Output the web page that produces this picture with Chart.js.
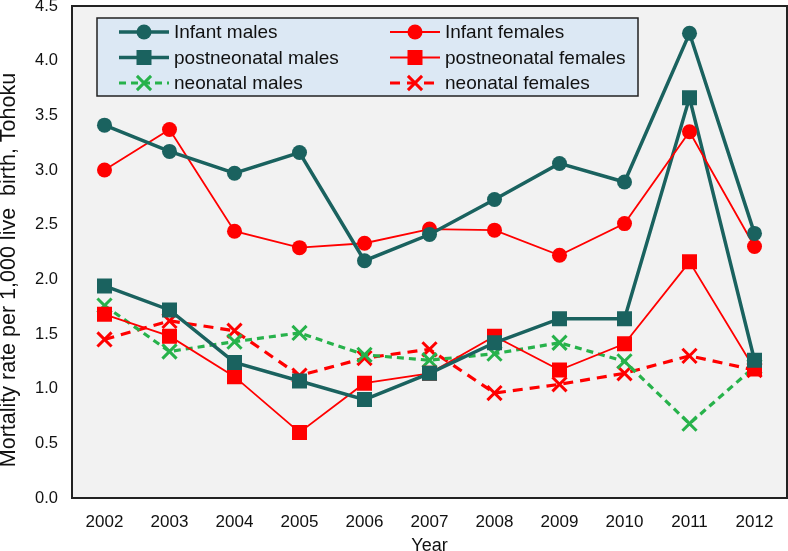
<!DOCTYPE html>
<html>
<head>
<meta charset="utf-8">
<script src="https://cdn.jsdelivr.net/npm/chart.js@4/dist/chart.umd.min.js"></script>
<style>
  body { margin: 0; background: #fff; }
  #wrap { width: 788px; height: 551px; }
</style>
</head>
<body>
<div id="wrap"><canvas id="chart" width="788" height="551"></canvas></div>
<script>
// data
const years = ["2002", "2003", "2004", "2005", "2006", "2007", "2008", "2009", "2010", "2011", "2012"];
const infantMales = [3.41, 3.17, 2.97, 3.16, 2.17, 2.41, 2.73, 3.06, 2.89, 4.25, 2.42];
const infantFemales = [3.00, 3.37, 2.44, 2.29, 2.33, 2.46, 2.45, 2.22, 2.51, 3.35, 2.30];
const postneoMales = [1.94, 1.72, 1.24, 1.07, 0.90, 1.14, 1.42, 1.64, 1.64, 3.66, 1.26];
const postneoFemales = [1.68, 1.48, 1.11, 0.60, 1.05, 1.14, 1.48, 1.17, 1.41, 2.16, 1.18];
const neoMales = [1.76, 1.34, 1.43, 1.51, 1.31, 1.26, 1.32, 1.42, 1.25, 0.68, 1.20];
const neoFemales = [1.45, 1.62, 1.53, 1.12, 1.28, 1.36, 0.96, 1.04, 1.14, 1.30, 1.17];
const yTicks = [0, 0.5, 1, 1.5, 2, 2.5, 3, 3.5, 4, 4.5];
const yTitle = "Mortality rate per 1,000 live  birth, Tohoku";

const TEAL = "#1a625f";
const RED = "#ff0000";
const GREEN = "#27b24b";
const FONT = "'Liberation Sans', Arial, sans-serif";

function ds(label, data, color, width, style, radius, dash) {
  return {
    label: label,
    data: data,
    borderColor: color,
    backgroundColor: color,
    pointBackgroundColor: color,
    pointBorderColor: color,
    borderWidth: width,
    borderDash: dash || [],
    pointStyle: style,
    pointRadius: radius,
    pointBorderWidth: style === "crossRot" ? 3 : 0,
    pointHoverRadius: radius,
    tension: 0,
    fill: false,
  };
}

// grey plot background + black frame + y title
const frame = {
  id: "frame",
  beforeDraw(chart) {
    const a = chart.chartArea, c = chart.ctx;
    c.save();
    c.fillStyle = "#f2f2f2";
    c.fillRect(a.left, a.top, a.right - a.left, a.bottom - a.top);
    c.restore();
  },
  afterDatasetsDraw(chart) {
    const a = chart.chartArea, c = chart.ctx;
    c.save();
    c.strokeStyle = "#222";
    c.lineWidth = 2;
    c.strokeRect(a.left, a.top, a.right - a.left, a.bottom - a.top);
    // axis title, sits a bit below the middle like the original
    c.translate(9, 270);
    c.rotate(-Math.PI / 2);
    c.fillStyle = "#111";
    c.font = "21.5px " + FONT;
    c.textAlign = "center";
    c.textBaseline = "middle";
    c.fillText(yTitle, 0, 0);
    c.restore();
  },
};

function marker(c, style, x, y, r, color) {
  c.save();
  c.fillStyle = color;
  c.strokeStyle = color;
  c.setLineDash([]);
  if (style === "circle") {
    c.beginPath();
    c.arc(x, y, r, 0, Math.PI * 2);
    c.fill();
  } else if (style === "rect") {
    const s = Math.SQRT1_2 * r;
    c.fillRect(x - s, y - s, 2 * s, 2 * s);
  } else {
    const s = Math.SQRT1_2 * r;
    c.lineWidth = 3;
    c.beginPath();
    c.moveTo(x - s, y - s); c.lineTo(x + s, y + s);
    c.moveTo(x + s, y - s); c.lineTo(x - s, y + s);
    c.stroke();
  }
  c.restore();
}

// two-column legend box inside the plot
const boxLegend = {
  id: "boxLegend",
  afterDraw(chart) {
    const a = chart.chartArea, c = chart.ctx;
    const x0 = a.left + 25, y0 = a.top + 12, w = 541, h = 78;
    c.save();
    c.fillStyle = "#dce8f4";
    c.fillRect(x0, y0, w, h);
    c.strokeStyle = "#222";
    c.lineWidth = 1.5;
    c.strokeRect(x0, y0, w, h);
    c.font = "19px " + FONT;
    c.textBaseline = "middle";
    chart.data.datasets.forEach(function (d, i) {
      const col = i % 2, row = Math.floor(i / 2);
      const lx = x0 + 22 + col * 271;
      const ly = y0 + 14 + row * 25.5;
      c.save();
      c.strokeStyle = d.borderColor;
      c.lineWidth = d.borderWidth;
      c.setLineDash(d.borderDash);
      c.beginPath();
      c.moveTo(lx, ly);
      c.lineTo(lx + 50, ly);
      c.stroke();
      c.restore();
      marker(c, d.pointStyle, lx + 25, ly, d.pointRadius, d.borderColor);
      c.fillStyle = "#111";
      c.fillText(d.label, lx + 55, ly + 1);
    });
    c.restore();
  },
};

function noPad(scale) {
  scale.paddingTop = 0;
  scale.paddingBottom = 0;
  scale.paddingLeft = 0;
  scale.paddingRight = 0;
}

const ctx = document.getElementById("chart").getContext("2d");
new Chart(ctx, {
  type: "line",
  data: {
    labels: years,
    datasets: [
      ds("Infant males", infantMales, TEAL, 3.5, "circle", 7.5),
      ds("Infant females", infantFemales, RED, 1.8, "circle", 7.5),
      ds("postneonatal males", postneoMales, TEAL, 3.5, "rect", 10.6),
      ds("postneonatal females", postneoFemales, RED, 1.8, "rect", 10.6),
      ds("neonatal males", neoMales, GREEN, 3.2, "crossRot", 10, [7, 5]),
      ds("neonatal females", neoFemales, RED, 3.2, "crossRot", 10, [10, 7]),
    ],
  },
  options: {
    responsive: false,
    animation: false,
    layout: { autoPadding: false, padding: { top: 6, right: 1, left: 0, bottom: 0 } },
    plugins: {
      legend: { display: false },
      tooltip: { enabled: false },
    },
    scales: {
      x: {
        offset: true,
        grid: { display: false, drawTicks: false },
        border: { display: false },
        ticks: {
          color: "#111",
          padding: 14,
          maxRotation: 0,
          font: { family: FONT, size: 17 },
        },
        title: {
          display: true,
          text: "Year",
          color: "#111",
          padding: { top: -6, bottom: -6 },
          font: { family: FONT, size: 18 },
        },
        afterFit(scale) { scale.height = 53; noPad(scale); },
      },
      y: {
        min: 0,
        max: 4.5,
        grid: { display: false, drawTicks: false },
        border: { display: false },
        afterBuildTicks(scale) { scale.ticks = yTicks.map(v => ({ value: v })); },
        ticks: {
          color: "#111",
          padding: 14,
          callback: v => v.toFixed(1),
          font: { family: FONT, size: 16.5 },
        },
        afterFit(scale) { scale.width = 72; noPad(scale); },
      },
    },
  },
  plugins: [frame, boxLegend],
});
</script>
</body>
</html>
